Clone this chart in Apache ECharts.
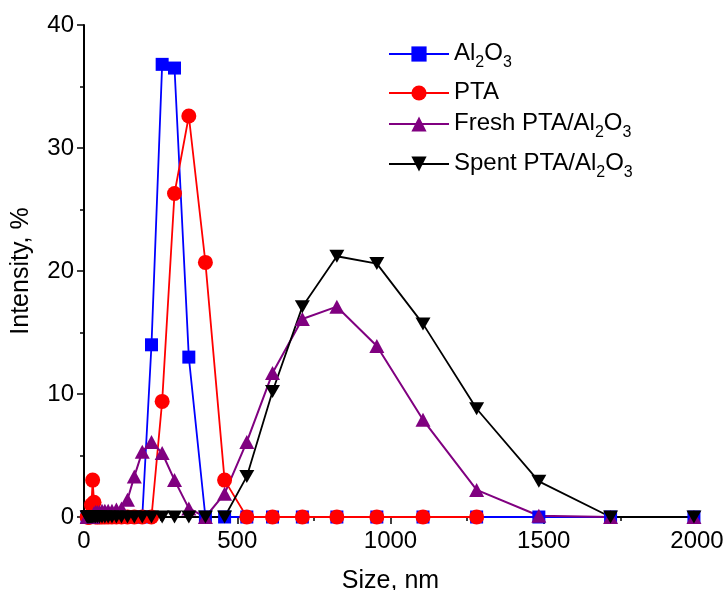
<!DOCTYPE html>
<html>
<head>
<meta charset="utf-8">
<script src="https://cdn.jsdelivr.net/npm/echarts@6/dist/echarts.min.js"></script>
<style>
  html, body { margin: 0; padding: 0; background: #fff; }
  #chart { width: 725px; height: 590px; }
</style>
</head>
<body>
<div id="chart"></div>
<script>
// DLS size bins (nm) that fall inside the 0-2000 window
const sizes = [10.1, 11.7, 13.54, 15.69, 18.17, 21.04, 24.36, 28.21, 32.67, 37.84,
  43.82, 50.75, 58.77, 68.06, 78.82, 91.28, 105.7, 122.4, 141.8, 164.2,
  190.1, 220.2, 255.0, 295.3, 342.0, 396.1, 458.7, 531.2, 615.1, 712.4,
  825.0, 955.4, 1106, 1281, 1484, 1718, 1990];

// intensity, % for each bin (null = not plotted)
const al2o3 = [0, 0, 0, 0, 0, 0, 0, 0, 0, 0,
  0, 0, 0, 0, 0, 0, 0, 0, 0, 0,
  0, 14.0, 36.8, 36.5, 13.0, 0, 0, 0, 0, 0,
  0, 0, 0, 0, 0, 0, 0];
const pta = [0, 0, 0, 0, 0, 0, 1.0, 3.0, 1.2, 0,
  0, 0, 0, 0, 0, 0, 0, 0, 0, 0,
  0, 0, 9.4, 26.3, 32.6, 20.7, 3.0, 0, 0, 0,
  0, 0, 0, 0, null, null, null];
const freshPta = [0, 0, 0, 0, 0, 0, 0, 0, 0.3, 0.4,
  0.4, 0.4, 0.5, 0.5, 0.5, 0.5, 0.6, 0.7, 1.4, 3.3,
  5.3, 6.1, 5.2, 3.0, 0.7, 0, 1.9, 6.1, 11.7, 16.1,
  17.1, 13.9, 7.9, 2.2, 0.1, 0, 0];
const spentPta = [0, 0, 0, 0, 0, 0, 0, 0, 0, 0,
  0, 0, 0, 0, 0, 0, 0, 0, 0, 0,
  0, 0, 0, 0, 0, 0, 0, 3.3, 10.2, 17.1,
  21.2, 20.6, 15.7, 8.8, 2.9, 0, 0];

const seriesNames = ['Al2O3', 'PTA', 'Fresh PTA/Al2O3', 'Spent PTA/Al2O3'];

const FONT = 'Liberation Sans, Arial, sans-serif';

function pairs(vals) {
  const out = [];
  vals.forEach((v, i) => { if (v !== null) out.push([sizes[i], v]); });
  return out;
}

// legend labels with subscripts
const legendLabels = {
  'Al2O3': '{m|Al}{s|2}{m|O}{s|3}',
  'PTA': '{m|PTA}',
  'Fresh PTA/Al2O3': '{m|Fresh PTA/Al}{s|2}{m|O}{s|3}',
  'Spent PTA/Al2O3': '{m|Spent PTA/Al}{s|2}{m|O}{s|3}'
};
const legendTops = [36, 75, 106, 146];

const chart = echarts.init(document.getElementById('chart'));

const invTriangle = 'path://M0,0 L10,0 L5,9 Z';

const option = {
  backgroundColor: '#fff',
  animation: false,
  grid: { left: 84, right: 28, top: 25, bottom: 73, outerBoundsMode: 'none', containLabel: false },
  legend: seriesNames.map((name, i) => ({
    data: [name],
    orient: 'vertical',
    left: 383,
    top: legendTops[i],
    itemWidth: 60,
    itemHeight: 19,
    itemGap: 0,
    formatter: n => legendLabels[n],
    textStyle: {
      color: '#000',
      fontFamily: FONT,
      rich: {
        m: { fontSize: 24, fontFamily: FONT, color: '#000', verticalAlign: 'top', lineHeight: 26 },
        s: { fontSize: 16, fontFamily: FONT, color: '#000', verticalAlign: 'top', lineHeight: 16, padding: [14, 0, 0, 0] }
      }
    }
  })),
  xAxis: {
    type: 'value',
    min: 0,
    max: 2000,
    interval: 500,
    name: 'Size, nm',
    nameLocation: 'middle',
    nameGap: 52,
    nameTextStyle: { fontSize: 25, fontFamily: FONT, color: '#000' },
    axisLine: { onZero: false, lineStyle: { color: '#000', width: 2 } },
    axisTick: { show: true, inside: false, length: 7, lineStyle: { color: '#000', width: 1.5 } },
    minorTick: { show: true, splitNumber: 2, length: 4, lineStyle: { color: '#000', width: 1.5 } },
    axisLabel: { fontSize: 24, fontFamily: FONT, color: '#000', margin: 12, formatter: v => String(v) },
    splitLine: { show: false }
  },
  yAxis: {
    type: 'value',
    min: 0,
    max: 40,
    interval: 10,
    name: 'Intensity, %',
    nameLocation: 'middle',
    nameGap: 50,
    nameTextStyle: { fontSize: 25, fontFamily: FONT, color: '#000' },
    axisLine: { show: true, onZero: false, lineStyle: { color: '#000', width: 2 } },
    axisTick: { show: true, inside: false, length: 7, lineStyle: { color: '#000', width: 1.5 } },
    minorTick: { show: true, splitNumber: 2, length: 4, lineStyle: { color: '#000', width: 1.5 } },
    axisLabel: { fontSize: 24, fontFamily: FONT, color: '#000', margin: 10 },
    splitLine: { show: false }
  },
  series: [
    {
      name: seriesNames[0], type: 'line', data: pairs(al2o3),
      symbol: 'rect', symbolSize: 13, showAllSymbol: true,
      lineStyle: { color: '#0000ff', width: 1.8 },
      itemStyle: { color: '#0000ff' }
    },
    {
      name: seriesNames[1], type: 'line', data: pairs(pta),
      symbol: 'circle', symbolSize: 15, showAllSymbol: true,
      lineStyle: { color: '#ff0000', width: 1.8 },
      itemStyle: { color: '#ff0000' }
    },
    {
      name: seriesNames[2], type: 'line', data: pairs(freshPta),
      symbol: 'triangle', symbolSize: [15, 14], showAllSymbol: true,
      lineStyle: { color: '#800080', width: 2 },
      itemStyle: { color: '#800080' }
    },
    {
      name: seriesNames[3], type: 'line', data: pairs(spentPta),
      symbol: invTriangle, symbolSize: [15, 13], showAllSymbol: true,
      lineStyle: { color: '#000000', width: 1.8 },
      itemStyle: { color: '#000000' }
    }
  ]
};

chart.setOption(option);
</script>
</body>
</html>
